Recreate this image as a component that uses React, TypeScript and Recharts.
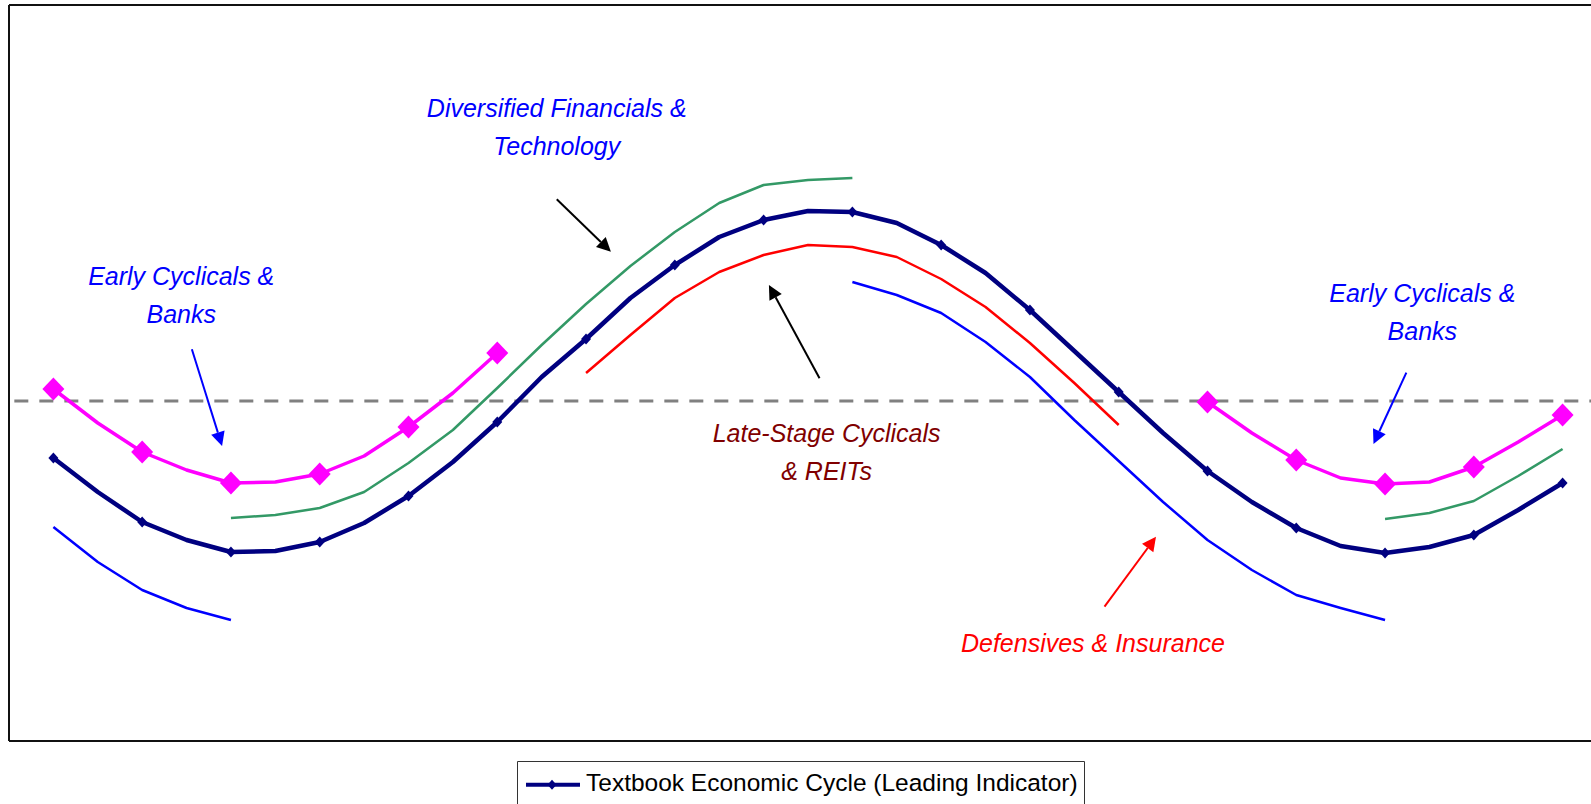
import React from 'react';
import { LineChart, Line, XAxis, YAxis, ReferenceLine, ReferenceDot, Legend } from 'recharts';

// Half-step positions along the cycle; markers sit on the whole steps
const steps = [
  0, 0.5, 1, 1.5, 2, 2.5, 3, 3.5, 4, 4.5, 5, 5.5, 6, 6.5, 7, 7.5, 8, 8.5,
  9, 9.5, 10, 10.5, 11, 11.5, 12, 12.5, 13, 13.5, 14, 14.5, 15, 15.5, 16, 16.5, 17,
];

// Textbook economic cycle (leading indicator)
const cycle = [
  -5.7, -9.1, -12.1, -13.9, -15.1, -15.0, -14.1, -12.2, -9.5, -6.1, -2.1, 2.4,
  6.2, 10.3, 13.6, 16.4, 18.1, 19.0, 18.9, 17.8, 15.6, 12.8, 9.1, 5.0, 0.9,
  -3.2, -7.0, -10.1, -12.7, -14.5, -15.2, -14.6, -13.4, -10.9, -8.2,
];

// Early cyclicals & banks
const earlyCyclicals = [
  1.2, -2.2, -5.1, -6.9, -8.2, -8.1, -7.3, -5.5, -2.6, 0.8, 4.8,
  null, null, null, null, null, null, null, null, null, null, null, null, null, null, null,
  -0.1, -3.2, -5.9, -7.7, -8.3, -8.1, -6.6, -4.1, -1.4,
];

// Diversified financials & technology
const financialsTech = [
  null, null, null, null,
  -11.7, -11.4, -10.7, -9.1, -6.2, -2.9, 1.3, 5.6, 9.7, 13.5, 16.9, 19.8, 21.6, 22.1, 22.3,
  null, null, null, null, null, null, null, null, null, null, null,
  -11.8, -11.2, -10.0, -7.5, -4.8,
];

// Late-stage cyclicals & REITs
const lateStage = [
  null, null, null, null, null, null, null, null, null, null, null, null,
  2.8, 6.6, 10.3, 12.9, 14.6, 15.6, 15.4, 14.4, 12.2, 9.4, 5.8, 1.8, -2.4,
  null, null, null, null, null, null, null, null, null, null,
];

// Defensives & insurance
const defensives = [
  -12.6, -16.1, -18.9, -20.7, -21.9,
  null, null, null, null, null, null, null, null, null, null, null, null, null,
  11.9, 10.6, 8.8, 5.9, 2.4, -1.9, -6.0, -10.1, -13.9, -16.9, -19.4, -20.7, -21.9,
  null, null, null, null,
];

const rows = steps.map((x, i) => ({
  x,
  cycle: cycle[i],
  earlyCyclicals: earlyCyclicals[i],
  financialsTech: financialsTech[i],
  lateStage: lateStage[i],
  defensives: defensives[i],
}));

const X_DOMAIN: [number, number] = [-0.5, 17.32];
const Y_DOMAIN: [number, number] = [-34, 39.6];

const FONT = "'Liberation Sans', Arial, Helvetica, sans-serif";

// Sector labels: lines of text anchored at a data position (line baseline)
const labels = [
  { x: 5.67, y: 28.4, lines: ['Diversified Financials &', 'Technology'], color: '#0000FF' },
  { x: 1.44, y: 11.65, lines: ['Early Cyclicals &', 'Banks'], color: '#0000FF' },
  { x: 15.42, y: 9.9, lines: ['Early Cyclicals &', 'Banks'], color: '#0000FF' },
  { x: 8.71, y: -4.07, lines: ['Late-Stage Cyclicals', '& REITs'], color: '#800000' },
  { x: 11.71, y: -25.07, lines: ['Defensives & Insurance'], color: '#FF0000' },
];

// Arrows from tail to tip, in data coordinates
const arrows = [
  { from: { x: 5.67, y: 20.17 }, to: { x: 6.28, y: 14.93 }, color: '#000000' },
  { from: { x: 8.63, y: 2.27 }, to: { x: 8.06, y: 11.6 }, color: '#000000' },
  { from: { x: 1.56, y: 5.17 }, to: { x: 1.9, y: -4.5 }, color: '#0000FF' },
  { from: { x: 15.24, y: 2.83 }, to: { x: 14.87, y: -4.3 }, color: '#0000FF' },
  { from: { x: 11.84, y: -20.57 }, to: { x: 12.42, y: -13.57 }, color: '#FF0000' },
];

const diamond = (cx: number, cy: number, hw: number, hh: number) =>
  `M${cx},${cy - hh} L${cx + hw},${cy} L${cx},${cy + hh} L${cx - hw},${cy} Z`;

// Diamond markers on whole steps only
const makeDot = (dataKey: string, color: string, hw: number, hh: number) => (props: any) => {
  const { cx, cy, payload, index } = props;
  const k = `${dataKey}-dot-${index}`;
  if (cx == null || cy == null || payload == null || payload[dataKey] == null || !Number.isInteger(payload.x)) {
    return <g key={k} />;
  }
  return <path key={k} d={diamond(cx, cy, hw, hh)} fill={color} stroke="none" />;
};

const makeArrow = (color: string) => (p: any) => {
  const { x1, y1, x2, y2 } = p;
  const a = Math.atan2(y2 - y1, x2 - x1);
  const len = 14;
  const hw = 7;
  const bx = x2 - len * Math.cos(a);
  const by = y2 - len * Math.sin(a);
  const px = -Math.sin(a) * hw;
  const py = Math.cos(a) * hw;
  return (
    <g>
      <line x1={x1} y1={y1} x2={bx} y2={by} stroke={color} strokeWidth={2} />
      <polygon points={`${x2},${y2} ${bx + px},${by + py} ${bx - px},${by - py}`} fill={color} />
    </g>
  );
};

const makeLabel = (lines: string[], color: string) => (p: any) => (
  <text
    x={p.cx}
    y={p.cy}
    textAnchor="middle"
    fill={color}
    fontFamily={FONT}
    fontStyle="italic"
    fontSize={25}
  >
    {lines.map((t, i) => (
      <tspan key={i} x={p.cx} dy={i === 0 ? 0 : 38}>
        {t}
      </tspan>
    ))}
  </text>
);

const LegendBox = () => (
  <div style={{ position: 'relative', width: 1591, height: 63 }}>
    <svg style={{ position: 'absolute', left: 517, top: 20 }} width={568} height={43}>
      <path d="M0.5,43 V0.5 H567.5 V43" fill="none" stroke="#333" strokeWidth={1} />
      <line x1={9} y1={23.7} x2={63} y2={23.7} stroke="#000080" strokeWidth={4} />
      <path d={diamond(35, 23.7, 4.5, 5)} fill="#000080" />
      <text x={69} y={29.7} fontFamily={FONT} fontSize={24.5} fill="#000">
        Textbook Economic Cycle (Leading Indicator)
      </text>
    </svg>
  </div>
);

export default function App() {
  return (
    <div style={{ position: 'absolute', left: 0, top: 0, width: 1591, height: 804, background: '#fff' }}>
      <LineChart width={1591} height={804} data={rows} margin={{ top: 5, right: 0, bottom: 0, left: 9 }}>
        <XAxis type="number" dataKey="x" domain={X_DOMAIN} allowDataOverflow hide />
        <YAxis type="number" domain={Y_DOMAIN} allowDataOverflow hide />

        {/* plot frame */}
        <ReferenceLine y={Y_DOMAIN[1]} stroke="#111" strokeWidth={2} ifOverflow="visible" />
        <ReferenceLine y={Y_DOMAIN[0]} stroke="#111" strokeWidth={2} ifOverflow="visible" />
        <ReferenceLine x={X_DOMAIN[0]} stroke="#111" strokeWidth={2} ifOverflow="visible" />

        {/* zero line */}
        <ReferenceLine
          segment={[{ x: -0.44, y: 0 }, { x: X_DOMAIN[1], y: 0 }]}
          stroke="#808080"
          strokeWidth={3}
          strokeDasharray="14 11"
          ifOverflow="visible"
        />

        <Line
          type="linear"
          dataKey="cycle"
          name="Textbook Economic Cycle (Leading Indicator)"
          stroke="#000080"
          strokeWidth={4.5}
          strokeLinejoin="round"
          dot={makeDot('cycle', '#000080', 5, 5.5)}
          activeDot={false}
          isAnimationActive={false}
        />
        <Line
          type="linear"
          dataKey="earlyCyclicals"
          stroke="#FF00FF"
          strokeWidth={3.5}
          strokeLinejoin="round"
          dot={makeDot('earlyCyclicals', '#FF00FF', 11, 11.5)}
          activeDot={false}
          isAnimationActive={false}
        />
        <Line
          type="linear"
          dataKey="financialsTech"
          stroke="#339966"
          strokeWidth={2.5}
          strokeLinejoin="round"
          dot={false}
          activeDot={false}
          isAnimationActive={false}
        />
        <Line
          type="linear"
          dataKey="lateStage"
          stroke="#FF0000"
          strokeWidth={2.5}
          strokeLinejoin="round"
          dot={false}
          activeDot={false}
          isAnimationActive={false}
        />
        <Line
          type="linear"
          dataKey="defensives"
          stroke="#0000FF"
          strokeWidth={2.5}
          strokeLinejoin="round"
          dot={false}
          activeDot={false}
          isAnimationActive={false}
        />

        {arrows.map((a, i) => (
          <ReferenceLine
            key={`arrow-${i}`}
            segment={[a.from, a.to]}
            ifOverflow="visible"
            shape={makeArrow(a.color)}
          />
        ))}

        {labels.map((l, i) => (
          <ReferenceDot
            key={`label-${i}`}
            x={l.x}
            y={l.y}
            r={0}
            ifOverflow="visible"
            shape={makeLabel(l.lines, l.color)}
          />
        ))}

        <Legend
          verticalAlign="bottom"
          height={63}
          wrapperStyle={{ left: 0, bottom: 0, width: 1591 }}
          content={() => <LegendBox />}
        />
      </LineChart>
    </div>
  );
}
